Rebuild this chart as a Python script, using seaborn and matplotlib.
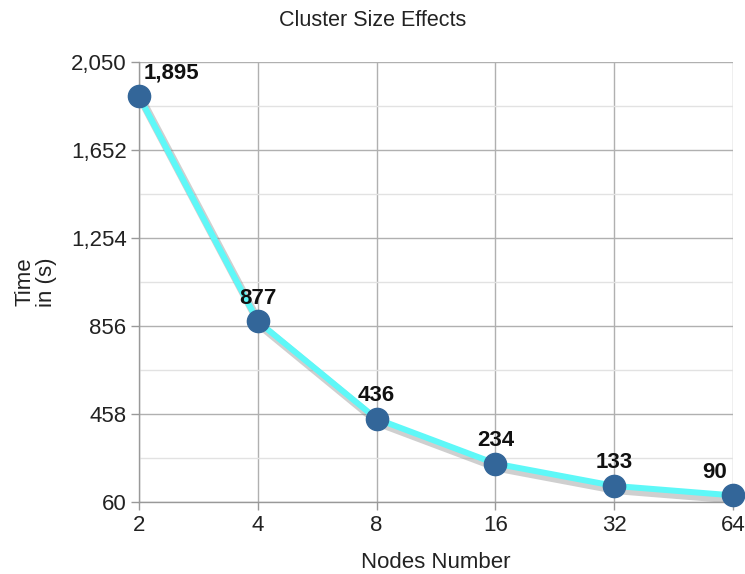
import matplotlib
matplotlib.use("Agg")
import matplotlib.pyplot as plt
import matplotlib.patheffects as pe
import seaborn as sns
import pandas as pd

nodes = ["2", "4", "8", "16", "32", "64"]
times = [1895, 877, 436, 234, 133, 90]
y_ticks = [60, 458, 856, 1254, 1652, 2050]

sns.set_theme(style="white")
plt.rcParams['font.family'] = ['Liberation Sans', 'DejaVu Sans']

df = pd.DataFrame({"pos": range(len(nodes)), "time": times})

fig = plt.figure(figsize=(7.45, 5.74), dpi=100)
ax = fig.add_axes([0.1866, 0.1254, 0.7973, 0.7666])

sns.lineplot(data=df, x="pos", y="time", ax=ax, color="#5ef8f8", linewidth=4.3,
             path_effects=[pe.SimpleLineShadow(offset=(2, -3), shadow_color="#888888", alpha=0.4, linewidth=6),
                           pe.Normal()], zorder=3)
ax.plot(df["pos"], df["time"], linestyle="none", marker="o", markersize=16,
        color="#336699", markeredgecolor="#336699", zorder=4, clip_on=False)

n = len(nodes)
for i, (x, y) in enumerate(zip(df["pos"], df["time"])):
    if i == 0:
        ha, dx = "left", 3
    elif i == n - 1:
        ha, dx = "right", -4
    else:
        ha, dx = "center", 0
    ax.annotate(f"{y:,}", (x, y), xytext=(dx, 9), textcoords="offset points",
                ha=ha, va="bottom", fontsize=16, fontweight="bold", color="#111111",
                zorder=5, annotation_clip=False)

ax.set_xlim(0, n - 1)
ax.set_ylim(y_ticks[0], y_ticks[-1])
ax.set_xticks(range(n))
ax.set_xticklabels(nodes)
ax.set_yticks(y_ticks)
ax.set_yticklabels([f"{v:,}" for v in y_ticks])
minor = [(a + b) / 2 for a, b in zip(y_ticks[:-1], y_ticks[1:])]
ax.set_yticks(minor, minor=True)

ax.grid(True, which="major", axis="both", color="#b0b0b0", linewidth=1)
ax.grid(True, which="minor", axis="y", color="#e2e2e2", linewidth=1)
ax.tick_params(axis="both", which="major", direction="out", length=6, width=1,
               color="#999999", labelsize=16, labelcolor="#222222", left=True, bottom=True, pad=3)
ax.tick_params(axis="y", which="minor", left=False)
for s in ["top", "right"]:
    ax.spines[s].set_visible(False)
for s in ["left", "bottom"]:
    ax.spines[s].set_color("#999999")
    ax.spines[s].set_linewidth(1)

ax.set_xlabel("Nodes Number", fontsize=16, color="#222222", labelpad=12)
ax.set_ylabel("Time\nin (s)", fontsize=16, color="#222222", labelpad=10, linespacing=1.0,
              multialignment="center")
fig.text(0.5, 0.965, "Cluster Size Effects", ha="center", va="center", fontsize=15.5, color="#222222")

fig.savefig("out.png", dpi=100)
